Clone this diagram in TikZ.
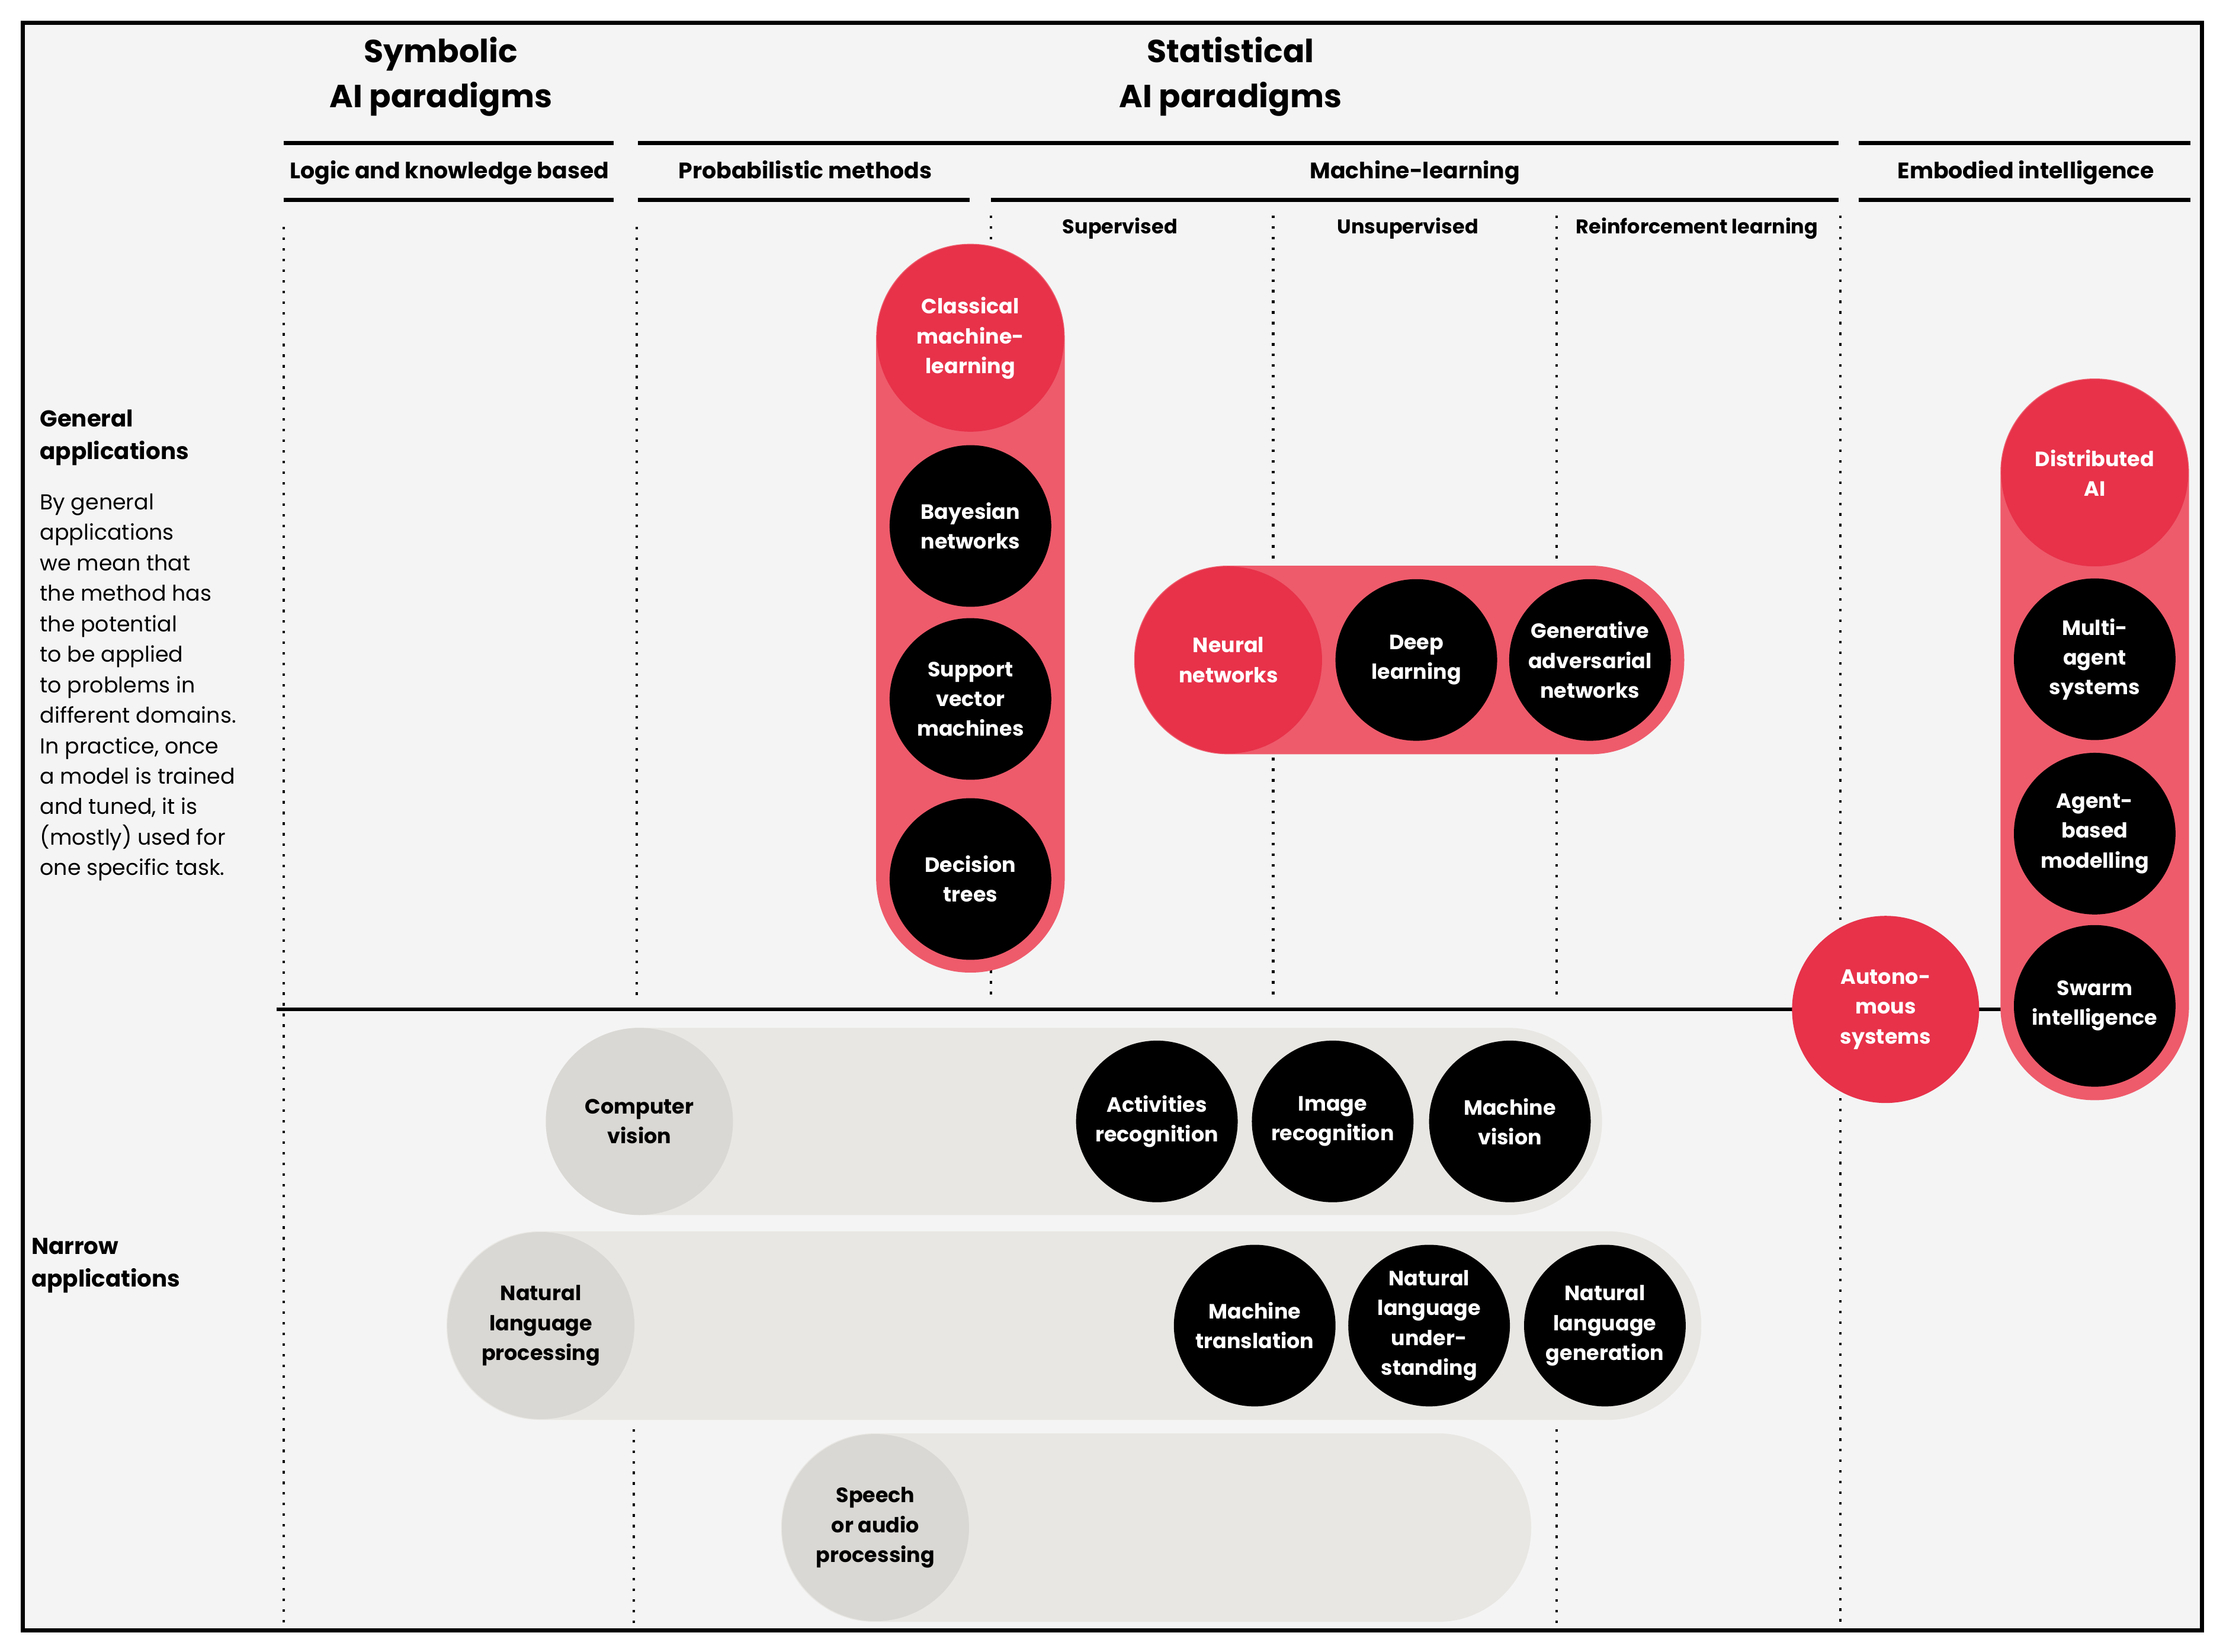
\documentclass[tikz,border=0pt]{standalone}
\usepackage{fontspec}
\setmainfont{Poppins}
\definecolor{cBg}{HTML}{F4F4F4}
\definecolor{cRedHead}{HTML}{E7324A}
\definecolor{cRedPill}{HTML}{EE5B6B}
\definecolor{cGrayHead}{HTML}{DAD8D4}
\definecolor{cGrayPill}{HTML}{E9E7E3}
\begin{document}
\begin{tikzpicture}[x=1pt,y=-1pt,
  hd/.style={font=\bfseries\fontsize{22.5}{32}\selectfont, align=center, inner sep=0pt},
  subhd/.style={font=\bfseries\fontsize{15.8}{18}\selectfont, inner sep=0pt, anchor=base},
  subsubhd/.style={font=\bfseries\fontsize{14}{16}\selectfont, inner sep=0pt, anchor=base},
  rulebar/.style={line width=3pt},
  dotline/.style={line width=1.8pt, dash pattern=on 1.8pt off 5.7pt},
  lbl/.style={font=\bfseries\fontsize{14.6}{21}\selectfont, align=center, inner sep=0pt},
  blk/.style={lbl, circle, fill=black, text=white, minimum size=114pt},
  redhead/.style={lbl, circle, fill=cRedHead, text=white, minimum size=132pt},
  grayhead/.style={lbl, circle, fill=cGrayHead, text=black, minimum size=132pt},
  redpill/.style={rectangle, fill=cRedPill, rounded corners=66pt, inner sep=0pt},
  graypill/.style={rectangle, fill=cGrayPill, rounded corners=66pt, inner sep=0pt},
  sidehd/.style={font=\bfseries\fontsize{16.2}{23}\selectfont, align=left, inner sep=0pt, anchor=north west},
  sidetxt/.style={font=\fontsize{15.2}{21.5}\selectfont, align=left, inner sep=0pt, anchor=north west},
]
\useasboundingbox (0,0) rectangle (1568,1165);
\fill[white] (0,0) rectangle (1568,1165);
\node[draw=black, line width=3pt, fill=cBg, minimum width=1537pt, minimum height=1134pt, inner sep=0pt] (frame) at (784.5,583) {};

% headers
\node[hd] (symb) at (311,54) {Symbolic\\AI paradigms};
\node[hd] (stat) at (868,54) {Statistical\\AI paradigms};

\draw[rulebar] (200,101) -- (433,101);
\draw[rulebar] (450,101) -- (1297,101);
\draw[rulebar] (1311,101) -- (1545,101);
\draw[rulebar] (200,141) -- (433,141);
\draw[rulebar] (450,141) -- (684,141);
\draw[rulebar] (699,141) -- (1297,141);
\draw[rulebar] (1311,141) -- (1545,141);

\node[subhd] (logic) at (317,126) {Logic and knowledge based};
\node[subhd] (prob) at (568,126) {Probabilistic methods};
\node[subhd] (ml) at (998,126) {Machine-learning};
\node[subhd] (emb) at (1429,126) {Embodied intelligence};

\node[subsubhd] (sup) at (790,165) {Supervised};
\node[subsubhd] (unsup) at (993,165) {Unsupervised};
\node[subsubhd] (rl) at (1197,165) {Reinforcement learning};

% dotted column lines
\draw[dotline] (200,160) -- (200,1145);
\draw[dotline] (449,160) -- (449,705);
\draw[dotline] (447,1008) -- (447,1145);
\draw[dotline] (699,152) -- (699,705);
\draw[dotline] (898,152) -- (898,705);
\draw[dotline] (1098,152) -- (1098,705);
\draw[dotline] (1098,1008) -- (1098,1145);
\draw[dotline] (1298,152) -- (1298,1145);

% main horizontal divider
\draw[line width=2.5pt] (195,712) -- (1420,712);

% side texts
\node[sidehd] (gen) at (28,289) {General\\applications};
\node[sidetxt] (gentxt) at (28,348) {By general\\applications\\we mean that\\the method has\\the potential\\to be applied\\to problems in\\different domains.\\In practice, once\\a model is trained\\and tuned, it is\\(mostly) used for\\one specific task.};
\node[sidehd] (narrow) at (22,873) {Narrow\\applications};

% classical machine learning
\node[redpill, minimum width=133pt, minimum height=514pt] (cmlpill) at (684.5,429) {};
\node[redhead] (cml) at (684.5,238.5) {Classical\\machine-\\learning};
\node[blk] (bayes) at (684.5,371) {Bayesian\\networks};
\node[blk] (svm) at (684.5,493) {Support\\vector\\machines};
\node[blk] (dt) at (684.5,620) {Decision\\trees};

% neural networks
\node[redpill, minimum width=388pt, minimum height=133pt] (nnpill) at (994,465.5) {};
\node[redhead] (nn) at (866.5,465.5) {Neural\\networks};
\node[blk] (dl) at (999,465.5) {Deep\\learning};
\node[blk] (gan) at (1121.5,465.5) {Generative\\adversarial\\networks};

% distributed AI
\node[redpill, minimum width=133pt, minimum height=509pt] (daipill) at (1477.5,521.5) {};
\node[redhead] (dai) at (1477.5,333.5) {Distributed\\AI};
\node[blk] (mas) at (1477.5,465) {Multi-\\agent\\systems};
\node[blk] (abm) at (1477.5,588) {Agent-\\based\\modelling};
\node[blk] (swarm) at (1477.5,709.5) {Swarm\\intelligence};

% autonomous systems
\node[redhead] (auto) at (1330,712) {Autono-\\mous\\systems};

% computer vision
\node[graypill, minimum width=745pt, minimum height=132pt] (cvpill) at (757.5,791) {};
\node[grayhead] (cv) at (451,791) {Computer\\vision};
\node[blk] (act) at (816,791) {Activities\\recognition};
\node[blk] (img) at (940,791) {Image\\recognition};
\node[blk] (mv) at (1065,791) {Machine\\vision};

% natural language processing
\node[graypill, minimum width=885pt, minimum height=133pt] (nlppill) at (757.5,935) {};
\node[grayhead] (nlp) at (381.5,935) {Natural\\language\\processing};
\node[blk] (mt) at (885,935) {Machine\\translation};
\node[blk] (nlu) at (1008,935) {Natural\\language\\under-\\standing};
\node[blk] (nlg) at (1132,935) {Natural\\language\\generation};

% speech
\node[graypill, minimum width=529pt, minimum height=133pt] (sppill) at (815.5,1077.5) {};
\node[grayhead] (sp) at (617.5,1077.5) {Speech\\or audio\\processing};
\end{tikzpicture}
\end{document}
